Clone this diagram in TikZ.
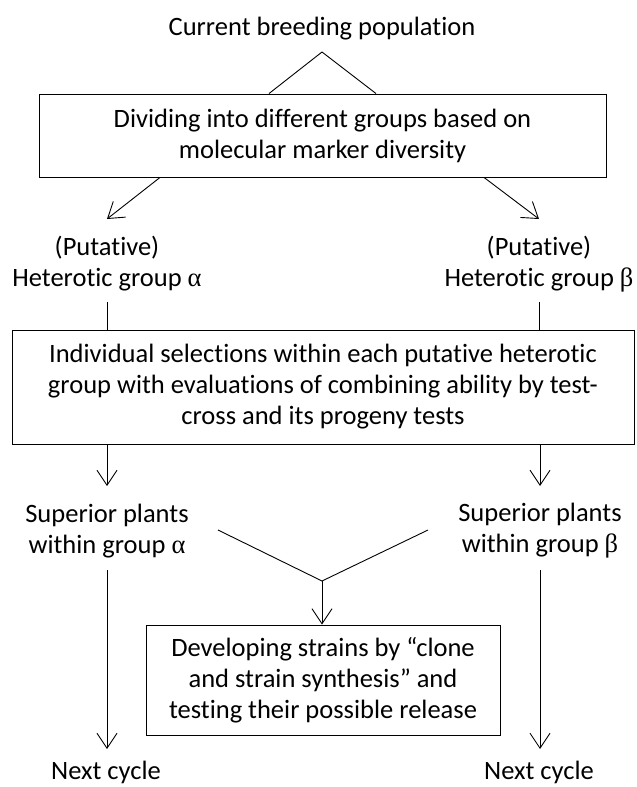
\documentclass[tikz,border=0pt]{standalone}
\usepackage{fontspec}
\setmainfont{Carlito}[Ligatures=NoCommon]
\newfontfamily\grk{Liberation Serif}
\usetikzlibrary{arrows.meta}
\begin{document}
\begin{tikzpicture}[x=1pt,y=-1pt,
  every node/.style={font=\fontsize{26.5}{31}\selectfont, align=center, inner sep=0pt},
  boxnode/.style={draw, line width=0.9pt},
  link/.style={line width=0.9pt},
  arr/.style={link, -{Straight Barb[length=15pt,width=20pt,line width=0.9pt]}}]
\useasboundingbox (0,0) rectangle (637,787);
% texts
\node (title) at (322,29) {Current breeding population};
\node[boxnode, minimum width=567pt, minimum height=83pt] (box1) at (322.5,135.5)
  {Dividing into different groups based on\\molecular marker diversity};
\node (putA) at (107,264) {(Putative)\\Heterotic group {\grk α}};
\node (putB) at (539,264) {(Putative)\\Heterotic group {\grk β}};
\node[boxnode, minimum width=622pt, minimum height=114pt] (box2) at (323,387)
  {Individual selections within each putative heterotic\\group with evaluations of combining ability by test-\\cross and its progeny tests};
\node (supA) at (107,531) {Superior plants\\within group {\grk α}};
\node (supB) at (540,531) {Superior plants\\within group {\grk β}};
\node[boxnode, minimum width=354pt, minimum height=110pt] (box3) at (323,680)
  {Developing strains by “clone\\and strain synthesis” and\\testing their possible release};
\node (nextA) at (106,772) {Next cycle};
\node (nextB) at (539,772) {Next cycle};
% coordinates
\coordinate (apex) at (322,52);
\coordinate (tipA) at (107,219);
\coordinate (tipB) at (539,219);
\coordinate (upA) at (107,302);
\coordinate (upB) at (539,302);
\coordinate (sA) at (107,486);
\coordinate (sB) at (540,486);
\coordinate (dA) at (218,530);
\coordinate (dB) at (428,530);
\coordinate (junc) at (322,581);
\coordinate (lA) at (107,570);
\coordinate (lB) at (540,570);
\coordinate (eA) at (107,749);
\coordinate (eB) at (540,749);
% connectors
\draw[link] ([xshift=-53.5pt]box1.north) -- (apex) -- ([xshift=53.5pt]box1.north);
\draw[arr] ([xshift=-162.5pt]box1.south) -- (tipA);
\draw[arr] ([xshift=161.5pt]box1.south) -- (tipB);
\draw[link] (upA) -- (box2.north -| upA);
\draw[link] (upB) -- (box2.north -| upB);
\draw[arr] (box2.south -| sA) -- (sA);
\draw[arr] (box2.south -| sB) -- (sB);
\draw[link] (dA) -- (junc) -- (dB);
\draw[arr] (junc) -- (box3.north -| junc);
\draw[arr] (lA) -- (eA);
\draw[arr] (lB) -- (eB);
\end{tikzpicture}
\end{document}
